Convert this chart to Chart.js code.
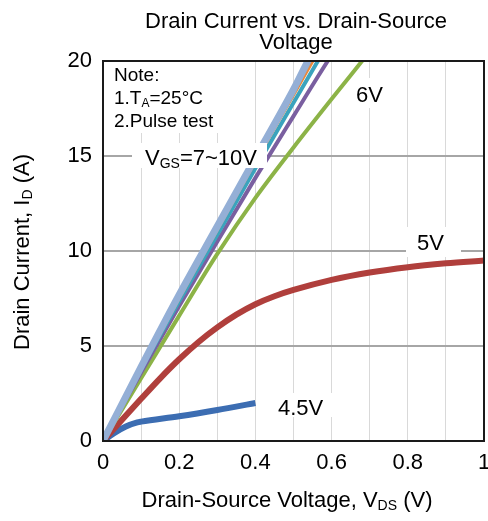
<!DOCTYPE html>
<html>
<head>
<meta charset="utf-8">
<script src="https://cdn.jsdelivr.net/npm/chart.js@4/dist/chart.umd.min.js"></script>
<style>
  html, body { margin: 0; padding: 0; background: #fff; }
  canvas { display: block; }
</style>
</head>
<body>
<canvas id="chart" width="488" height="521"></canvas>
<script>
// drain current (A) vs drain-source voltage (V), one pair of arrays per gate voltage
const vgs10Vds = [0, 0.1, 0.2, 0.3, 0.4, 0.5, 0.538, 0.6];
const vgs10Id = [0, 3.9, 7.7, 11.3, 14.9, 18.5, 20, 22.2];
const vgs9Vds = [0, 0.1, 0.2, 0.3, 0.4, 0.5, 0.551, 0.6];
const vgs9Id = [0, 3.8, 7.5, 11.1, 14.7, 18.2, 20, 21.7];
const vgs8Vds = [0, 0.1, 0.2, 0.3, 0.4, 0.5, 0.564, 0.6];
const vgs8Id = [0, 3.75, 7.35, 10.85, 14.35, 17.8, 20, 21.2];
const vgs7Vds = [0, 0.1, 0.2, 0.3, 0.4, 0.5, 0.59, 0.62];
const vgs7Id = [0, 3.6, 7.1, 10.5, 13.85, 17.1, 20, 20.9];
const vgs6Vds = [0, 0.1, 0.2, 0.3, 0.4, 0.5, 0.6, 0.68, 0.72];
const vgs6Id = [0, 3.3, 6.6, 9.85, 12.8, 15.45, 18, 20, 21];
const vgs5Vds = [0, 0.05, 0.1, 0.15, 0.2, 0.25, 0.3, 0.35, 0.4, 0.45, 0.5, 0.6, 0.7, 0.8, 0.9, 1.0];
const vgs5Id = [0, 1.12, 2.22, 3.3, 4.3, 5.2, 5.98, 6.65, 7.2, 7.62, 7.95, 8.48, 8.87, 9.15, 9.35, 9.5];
const vgs45Vds = [0, 0.03, 0.06, 0.09, 0.1, 0.2, 0.3, 0.4];
const vgs45Id = [0, 0.42, 0.76, 0.98, 1.02, 1.3, 1.63, 2.0];

const xTicks = [0, 0.2, 0.4, 0.6, 0.8, 1];
const yTicks = [0, 5, 10, 15, 20];

const FONT = '"Liberation Sans", Arial, sans-serif';

const toPoints = (xs, ys) => xs.map((x, i) => ({ x: x, y: ys[i] }));

const series = [
    { label: 'VGS=10V', xs: vgs10Vds, ys: vgs10Id, color: '#94afd6', width: 7 },
    { label: 'VGS=9V', xs: vgs9Vds, ys: vgs9Id, color: '#e8883a', width: 3 },
    { label: 'VGS=8V', xs: vgs8Vds, ys: vgs8Id, color: '#3ba3bd', width: 4 },
    { label: 'VGS=7V', xs: vgs7Vds, ys: vgs7Id, color: '#7a5fa0', width: 4 },
    { label: 'VGS=6V', xs: vgs6Vds, ys: vgs6Id, color: '#8cb347', width: 4 },
    { label: 'VGS=5V', xs: vgs5Vds, ys: vgs5Id, color: '#b03f3c', width: 6 },
    { label: 'VGS=4.5V', xs: vgs45Vds, ys: vgs45Id, color: '#3c6db2', width: 6 }
];

// text with subscripts: parts = [[text, isSub], ...]
const drawRich = (ctx, parts, x, y, size, align) => {
    const subSize = Math.round(size * 0.64);
    let total = 0;
    for (const [t, sub] of parts) {
        ctx.font = `${sub ? subSize : size}px ${FONT}`;
        total += ctx.measureText(t).width;
    }
    let cx = align === 'center' ? x - total / 2 : x;
    ctx.textAlign = 'left';
    ctx.textBaseline = 'alphabetic';
    for (const [t, sub] of parts) {
        ctx.font = `${sub ? subSize : size}px ${FONT}`;
        ctx.fillText(t, cx, sub ? y + 3 : y);
        cx += ctx.measureText(t).width;
    }
};

const whiteBox = (ctx, x, y, w, h) => {
    ctx.fillStyle = '#ffffff';
    ctx.fillRect(x, y, w, h);
    ctx.fillStyle = '#000000';
};

const decorations = {
    id: 'decorations',
    afterDatasetsDraw(chart) {
        const ctx = chart.ctx;
        ctx.save();
        // notes and curve labels
        whiteBox(ctx, 104, 62, 126, 71);
        drawRich(ctx, [['Note:', false]], 114, 81, 19);
        drawRich(ctx, [['1.T', false], ['A', true], ['=25°C', false]], 114, 104, 19);
        drawRich(ctx, [['2.Pulse test', false]], 114, 127, 19);

        whiteBox(ctx, 132, 143, 135, 25);
        drawRich(ctx, [['V', false], ['GS', true], ['=7~10V', false]], 145, 165, 22);

        whiteBox(ctx, 354, 78, 40, 30);
        drawRich(ctx, [['6V', false]], 356, 102, 22);

        whiteBox(ctx, 406, 227, 55, 30);
        drawRich(ctx, [['5V', false]], 417, 250, 22);

        whiteBox(ctx, 265, 393, 72, 24);
        drawRich(ctx, [['4.5V', false]], 278, 415, 22);
        ctx.restore();
    },
    afterDraw(chart) {
        const ctx = chart.ctx;
        const a = chart.chartArea;
        ctx.save();
        ctx.strokeStyle = '#1a1a1a';
        ctx.lineWidth = 2;
        ctx.strokeRect(a.left, a.top, a.right - a.left, a.bottom - a.top);

        ctx.fillStyle = '#000000';
        drawRich(ctx, [['Drain Current vs. Drain-Source', false]], 296, 28, 22, 'center');
        drawRich(ctx, [['Voltage', false]], 296, 49, 22, 'center');

        drawRich(ctx, [['Drain-Source Voltage, V', false], ['DS', true], [' (V)', false]], 287, 507, 22, 'center');

        ctx.translate(29, 252);
        ctx.rotate(-Math.PI / 2);
        drawRich(ctx, [['Drain Current, I', false], ['D', true], [' (A)', false]], 0, 0, 22, 'center');
        ctx.restore();
    }
};

const config = {
    type: 'scatter',
    data: {
        datasets: series.map((s) => ({
            label: s.label,
            data: toPoints(s.xs, s.ys),
            showLine: true,
            borderColor: s.color,
            backgroundColor: s.color,
            borderWidth: s.width,
            pointRadius: 0,
            cubicInterpolationMode: 'monotone',
            clip: 0
        }))
    },
    options: {
        responsive: false,
        animation: false,
        devicePixelRatio: 1,
        layout: { padding: { top: 61, right: 4, left: 0, bottom: 0 } },
        plugins: { legend: { display: false }, tooltip: { enabled: false } },
        scales: {
            x: {
                type: 'linear',
                min: 0,
                max: 1,
                afterFit: (s) => {
                    s.height = 80;
                    s.paddingLeft = 0;
                    s.paddingRight = 0;
                },
                border: { display: false },
                grid: {
                    drawTicks: false,
                    lineWidth: 1,
                    color: (c) => (c.tick && (c.tick.value <= 0 || c.tick.value >= 1) ? 'rgba(0,0,0,0)' : '#d9d9d9')
                },
                ticks: {
                    stepSize: 0.1,
                    autoSkip: false,
                    maxRotation: 0,
                    padding: 9,
                    color: '#000',
                    font: { family: FONT, size: 22 },
                    callback: (v) => {
                        const r = Math.round(v * 10) / 10;
                        return xTicks.includes(r) ? String(r) : '';
                    }
                }
            },
            y: {
                type: 'linear',
                min: 0,
                max: 20,
                afterFit: (s) => {
                    s.width = 103;
                    s.paddingTop = 0;
                    s.paddingBottom = 0;
                },
                border: { display: false },
                grid: {
                    drawTicks: false,
                    lineWidth: 2,
                    color: (c) => (c.tick && c.tick.value > 0 && c.tick.value < 20 ? '#a6a6a6' : 'rgba(0,0,0,0)')
                },
                ticks: {
                    stepSize: 5,
                    padding: 11,
                    color: '#000',
                    font: { family: FONT, size: 22 },
                    callback: (v) => (yTicks.includes(v) ? String(v) : '')
                }
            }
        }
    },
    plugins: [decorations]
};

new Chart(document.getElementById('chart'), config);
</script>
</body>
</html>
